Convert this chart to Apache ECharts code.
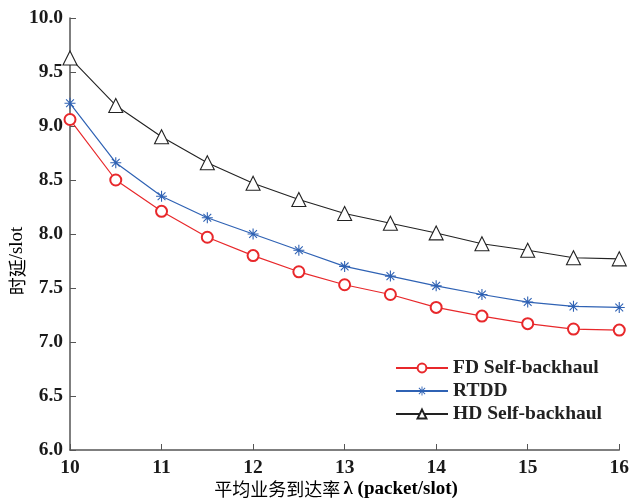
<!DOCTYPE html>
<html>
<head>
<meta charset="utf-8">
<script src="https://cdn.jsdelivr.net/npm/echarts@6/dist/echarts.min.js"></script>
<style>
  html, body { margin: 0; padding: 0; background: #fff; }
  #chart { width: 632px; height: 502px; }
</style>
</head>
<body>
<div id="chart"></div>
<script>
// 横轴：平均业务到达率
var lambdas = [10, 10.5, 11, 11.5, 12, 12.5, 13, 13.5, 14, 14.5, 15, 15.5, 16];
// 各方案时延
var fdDelay = [9.06, 8.50, 8.21, 7.97, 7.80, 7.65, 7.53, 7.44, 7.32, 7.24, 7.17, 7.12, 7.11];
var rtddDelay = [9.21, 8.66, 8.35, 8.15, 8.00, 7.85, 7.70, 7.61, 7.52, 7.44, 7.37, 7.33, 7.32];
var hdDelay = [9.63, 9.19, 8.90, 8.66, 8.47, 8.32, 8.19, 8.10, 8.01, 7.91, 7.85, 7.78, 7.77];
var seriesNames = ['FD Self-backhaul', 'RTDD', 'HD Self-backhaul'];

function pairs(ys) {
    return lambdas.map(function (x, i) { return [x, ys[i]]; });
}

// 星号标记
var starPath = 'path://M-1,-10L1,-10L1,10L-1,10Z M-10,-1L10,-1L10,1L-10,1Z ' +
    'M-7.8,-6.4L-6.4,-7.8L7.8,6.4L6.4,7.8Z M6.4,-7.8L7.8,-6.4L-6.4,7.8L-7.8,6.4Z';

var serif = '"Liberation Serif", "DejaVu Serif", serif';
var cjk = '"Noto Sans CJK SC", sans-serif';

var myChart = echarts.init(document.getElementById('chart'));
var option = {
    animation: false,
    backgroundColor: '#fff',
    grid: { left: 70, right: 12, top: 18, bottom: 52 },
    legend: {
        orient: 'vertical',
        left: 390,
        top: 353,
        itemWidth: 52,
        itemHeight: 11,
        itemGap: 3,
        textStyle: { fontFamily: serif, fontSize: 19.5, fontWeight: 'bold', color: '#222' },
        data: seriesNames
    },
    //坐标轴名称
    graphic: [{
        type: 'text',
        x: 336,
        y: 489,
        style: {
            text: '{c|平均业务到达率} {l|λ (packet/slot)}',
            align: 'center',
            verticalAlign: 'middle',
            rich: {
                c: { fontFamily: cjk, fontSize: 18, color: '#222' },
                l: { fontFamily: serif, fontSize: 19, fontWeight: 'bold', color: '#222' }
            }
        }
    }, {
        type: 'text',
        x: 17,
        y: 261,
        rotation: Math.PI / 2,
        style: {
            text: '{c|时延}{l|/slot}',
            align: 'center',
            verticalAlign: 'middle',
            rich: {
                c: { fontFamily: cjk, fontSize: 18, color: '#222' },
                l: { fontFamily: serif, fontSize: 19, color: '#222' }
            }
        }
    }],
    xAxis: {
        type: 'value',
        min: 10,
        max: 16,
        interval: 1,
        axisLine: { lineStyle: { color: '#555', width: 1.5 } },
        axisTick: { inside: true, length: 6, lineStyle: { color: '#555' } },
        axisLabel: { fontFamily: serif, fontSize: 19.5, fontWeight: 'bold', color: '#1a1a1a', margin: 8 },
        splitLine: { show: false }
    },
    yAxis: {
        type: 'value',
        min: 6,
        max: 10,
        interval: 0.5,
        axisLine: { show: true, lineStyle: { color: '#555', width: 1.5 } },
        axisTick: { show: true, inside: true, length: 6, lineStyle: { color: '#555' } },
        axisLabel: {
            fontFamily: serif, fontSize: 19.5, fontWeight: 'bold', color: '#1a1a1a', margin: 7,
            formatter: function (v) { return v.toFixed(1); }
        },
        splitLine: { show: false }
    },
    series: [{
        name: seriesNames[0],
        type: 'line',
        data: pairs(fdDelay),
        symbol: 'emptyCircle',
        symbolSize: 11,
        lineStyle: { color: '#e8282b', width: 1.2 },
        itemStyle: { color: '#e8282b', borderWidth: 1.1 }
    }, {
        name: seriesNames[1],
        type: 'line',
        data: pairs(rtddDelay),
        symbol: starPath,
        symbolSize: 11,
        lineStyle: { color: '#2f62b4', width: 1.2 },
        itemStyle: { color: '#2f62b4', borderWidth: 0 }
    }, {
        name: seriesNames[2],
        type: 'line',
        data: pairs(hdDelay),
        symbol: 'triangle',
        symbolSize: 14,
        lineStyle: { color: '#222', width: 1.1 },
        itemStyle: { color: '#fff', borderColor: '#222', borderWidth: 1.1 }
    }]
};
myChart.setOption(option);
</script>
</body>
</html>
